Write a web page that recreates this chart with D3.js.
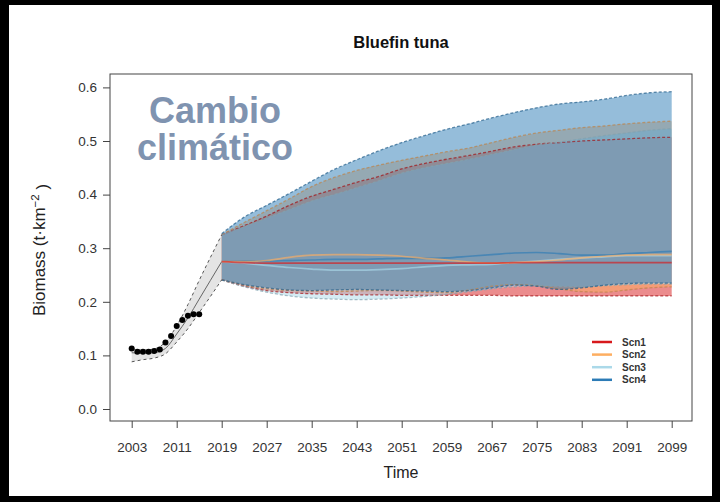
<!DOCTYPE html>
<html><head><meta charset="utf-8">
<script src="https://cdn.jsdelivr.net/npm/d3@7"></script>
<style>html,body{margin:0;padding:0;background:#000;} svg{display:block;}</style>
</head><body><svg id="c" width="720" height="502"></svg>
<script>
// ---------- data ----------
const histYears = [2003,2004,2005,2006,2007,2008,2009,2010,2011,2012,2013,2014,2015];
const histBiomass = [0.113,0.107,0.107,0.107,0.108,0.111,0.124,0.136,0.155,0.166,0.174,0.177,0.177];

const hindYears = [2003,2005,2007,2009,2011,2013,2015,2017,2019];
const hindMean  = [0.105,0.104,0.105,0.113,0.140,0.170,0.205,0.240,0.275];
const hindLower = [0.088,0.092,0.095,0.103,0.125,0.150,0.180,0.210,0.241];
const hindUpper = [0.112,0.110,0.112,0.125,0.155,0.195,0.240,0.283,0.325];

const projYears = [2019,2023,2027,2031,2035,2039,2043,2047,2051,2055,2059,2063,2067,2071,2075,2079,2083,2087,2091,2095,2099];

const scenarios = ["Scn1","Scn2","Scn3","Scn4"];
const scnColors = ["#d7191c","#fdae61","#abd9e9","#2c7bb6"];

const scn1Mean  = [0.275,0.273,0.272,0.272,0.272,0.272,0.272,0.272,0.272,0.272,0.272,0.272,0.272,0.273,0.273,0.273,0.273,0.273,0.273,0.273,0.273];
const scn1Lower = [0.241,0.229,0.221,0.217,0.215,0.214,0.213,0.213,0.212,0.212,0.212,0.212,0.212,0.211,0.211,0.211,0.211,0.211,0.211,0.211,0.211];
const scn1Upper = [0.325,0.342,0.360,0.380,0.397,0.410,0.423,0.434,0.448,0.458,0.466,0.473,0.481,0.489,0.494,0.497,0.500,0.502,0.504,0.506,0.507];

const scn2Mean  = [0.275,0.275,0.277,0.283,0.287,0.288,0.288,0.287,0.285,0.281,0.278,0.274,0.272,0.273,0.275,0.278,0.282,0.285,0.287,0.288,0.288];
const scn2Lower = [0.241,0.231,0.224,0.221,0.220,0.219,0.220,0.221,0.220,0.218,0.217,0.222,0.229,0.232,0.230,0.224,0.219,0.218,0.222,0.226,0.228];
const scn2Upper = [0.325,0.348,0.370,0.392,0.415,0.432,0.445,0.455,0.464,0.472,0.480,0.487,0.497,0.507,0.515,0.520,0.525,0.528,0.532,0.535,0.537];

const scn3Mean  = [0.275,0.272,0.268,0.264,0.261,0.259,0.259,0.260,0.262,0.265,0.268,0.269,0.270,0.273,0.276,0.279,0.282,0.284,0.286,0.286,0.286];
const scn3Lower = [0.241,0.228,0.218,0.211,0.207,0.205,0.204,0.205,0.207,0.210,0.214,0.219,0.224,0.228,0.230,0.229,0.228,0.230,0.232,0.233,0.233];
const scn3Upper = [0.325,0.340,0.356,0.372,0.388,0.400,0.413,0.426,0.440,0.450,0.458,0.466,0.475,0.484,0.492,0.498,0.504,0.510,0.515,0.520,0.523];

const scn4Mean  = [0.275,0.276,0.276,0.277,0.278,0.279,0.279,0.280,0.281,0.281,0.282,0.285,0.288,0.291,0.292,0.290,0.287,0.287,0.290,0.292,0.294];
const scn4Lower = [0.241,0.232,0.226,0.222,0.221,0.222,0.223,0.222,0.221,0.220,0.219,0.221,0.226,0.231,0.229,0.223,0.226,0.231,0.234,0.235,0.235];
const scn4Upper = [0.327,0.358,0.380,0.402,0.425,0.447,0.465,0.482,0.497,0.510,0.522,0.532,0.543,0.553,0.562,0.569,0.573,0.578,0.585,0.590,0.592];

const xTicks = [2003,2011,2019,2027,2035,2043,2051,2059,2067,2075,2083,2091,2099];
const yTicks = [0.0,0.1,0.2,0.3,0.4,0.5,0.6];

const scnMeans  = [scn1Mean, scn2Mean, scn3Mean, scn4Mean];
const scnLowers = [scn1Lower, scn2Lower, scn3Lower, scn4Lower];
const scnUppers = [scn1Upper, scn2Upper, scn3Upper, scn4Upper];

// ---------- drawing ----------
const svg = d3.select("#c");
const FONT = "'Liberation Sans', Arial, sans-serif";

svg.append("rect").attr("x",9).attr("y",5).attr("width",703).attr("height",491).attr("fill","#fff");

const x = d3.scaleLinear().domain([2003,2099]).range([131.7,671.7]);
const y = d3.scaleLinear().domain([0,0.6]).range([409,87.4]);

const plot = {left:110, right:692, top:74, bottom:421};

// hindcast ribbon
const hind = hindYears.map((yr,i)=>({yr, m:hindMean[i], lo:hindLower[i], hi:hindUpper[i]}));
const curve = d3.curveMonotoneX;
svg.append("path").datum(hind)
  .attr("d", d3.area().x(d=>x(d.yr)).y0(d=>y(d.lo)).y1(d=>y(d.hi)).curve(curve))
  .attr("fill","#e4e4e4");

// projection ribbons
scenarios.forEach((s,k)=>{
  const data = projYears.map((yr,i)=>({yr, lo:scnLowers[k][i], hi:scnUppers[k][i]}));
  svg.append("path").datum(data)
    .attr("d", d3.area().x(d=>x(d.yr)).y0(d=>y(d.lo)).y1(d=>y(d.hi)).curve(curve))
    .attr("fill", scnColors[k]).attr("fill-opacity",0.5);
});

// dashed bounds
scenarios.forEach((s,k)=>{
  const col = d3.color(scnColors[k]).darker(0.8).formatHex();
  [scnLowers[k], scnUppers[k]].forEach(arr=>{
    svg.append("path").datum(projYears.map((yr,i)=>({yr, v:arr[i]})))
      .attr("d", d3.line().x(d=>x(d.yr)).y(d=>y(d.v)).curve(curve))
      .attr("fill","none").attr("stroke",col).attr("stroke-opacity",0.7)
      .attr("stroke-width",1.3).attr("stroke-dasharray","3,2");
  });
});

// hindcast lines
[["lo","3,3"],["hi","3,3"],["m",null]].forEach(([key,dash])=>{
  const p = svg.append("path").datum(hind)
    .attr("d", d3.line().x(d=>x(d.yr)).y(d=>y(d[key])).curve(curve))
    .attr("fill","none").attr("stroke", key==="m" ? "#666" : "#555").attr("stroke-width",1);
  if (dash) p.attr("stroke-dasharray",dash);
});

// mean lines
[3,2,1,0].forEach(k=>{
  svg.append("path").datum(projYears.map((yr,i)=>({yr, v:scnMeans[k][i]})))
    .attr("d", d3.line().x(d=>x(d.yr)).y(d=>y(d.v)).curve(curve))
    .attr("fill","none").attr("stroke",scnColors[k]).attr("stroke-opacity",0.65)
    .attr("stroke-width",1.7);
});

// observed points
svg.append("g").selectAll("circle").data(histYears.map((yr,i)=>({yr,v:histBiomass[i]})))
  .join("circle").attr("cx",d=>x(d.yr)).attr("cy",d=>y(d.v)).attr("r",3).attr("fill","#000");

// box
svg.append("rect").attr("x",plot.left).attr("y",plot.top)
  .attr("width",plot.right-plot.left).attr("height",plot.bottom-plot.top)
  .attr("fill","none").attr("stroke","#444").attr("stroke-width",1);

// axes
const yAxis = svg.append("g").attr("transform",`translate(${plot.left},0)`)
  .call(d3.axisLeft(y).tickValues(yTicks).tickFormat(d3.format(".1f")).tickSize(7).tickPadding(6));
yAxis.select(".domain").remove();
yAxis.selectAll("line").attr("stroke","#444");
yAxis.selectAll("text").attr("font-family",FONT).attr("font-size",13.5).attr("fill","#333");

const xAxis = svg.append("g").attr("transform",`translate(0,${plot.bottom})`)
  .call(d3.axisBottom(x).tickValues(xTicks).tickFormat(d3.format("d")).tickSize(7).tickPadding(14));
xAxis.select(".domain").remove();
xAxis.selectAll("line").attr("stroke","#444");
xAxis.selectAll("text").attr("font-family",FONT).attr("font-size",13.5).attr("fill","#333");

// title and labels
svg.append("text").attr("x",401).attr("y",48).attr("text-anchor","middle")
  .attr("font-family",FONT).attr("font-weight","bold").attr("font-size",16.5).attr("fill","#111")
  .text("Bluefin tuna");

svg.append("text").attr("x",401).attr("y",478).attr("text-anchor","middle")
  .attr("font-family",FONT).attr("font-size",16).attr("fill","#222").text("Time");

const yl = svg.append("text").attr("transform","translate(45,250) rotate(-90)")
  .attr("text-anchor","middle").attr("font-family",FONT).attr("font-size",17).attr("fill","#222");
yl.append("tspan").text("Biomass (t·km");
yl.append("tspan").attr("dy","-0.55em").attr("font-size",11.5).text("−2");
yl.append("tspan").attr("dy","0.55em").text(" )");

// overlay text
const ov = svg.append("text").attr("text-anchor","middle").attr("font-family",FONT)
  .attr("font-weight","bold").attr("font-size",36).attr("fill","#7f93b0");
ov.append("tspan").attr("x",215).attr("y",123).text("Cambio");
ov.append("tspan").attr("x",215).attr("y",160).text("climático");

// legend
const lg = svg.append("g");
scenarios.forEach((s,k)=>{
  const yy = 342 + k*12.6;
  lg.append("line").attr("x1",592).attr("x2",612).attr("y1",yy).attr("y2",yy)
    .attr("stroke",scnColors[k]).attr("stroke-width",2.5);
  lg.append("text").attr("x",622).attr("y",yy).attr("dy","0.35em")
    .attr("font-family",FONT).attr("font-size",10).attr("font-weight","bold").attr("fill","#333").text(s);
});
</script></body></html>
